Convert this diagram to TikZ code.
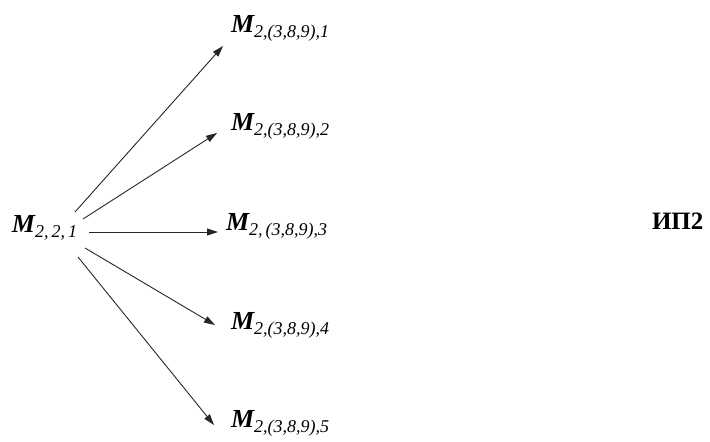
\documentclass[tikz,border=0pt]{standalone}
\usepackage{fontspec}
\setmainfont{Liberation Serif}
\usetikzlibrary{arrows.meta}
% M with an italic subscript
\newcommand{\Msub}[1]{{\fontsize{26}{26}\selectfont\bfseries\itshape M}\raisebox{-5pt}{\fontsize{18}{18}\selectfont\itshape #1}}
\begin{document}
\begin{tikzpicture}[x=1pt,y=-1pt,
  lbl/.style={anchor=base west,inner sep=0pt,outer sep=0pt},
  link/.style={line width=0.9pt,draw=black!85,-{Triangle[length=11pt,width=7pt]}}]
\useasboundingbox (0,0) rectangle (710,442);
\node[lbl] (src) at (12,232) {\Msub{2,\,2,\,1}};
\node[lbl] (t1) at (231,32) {\Msub{2,(3,8,9),1}};
\node[lbl] (t2) at (231,130) {\Msub{2,(3,8,9),2}};
\node[lbl] (t3) at (226,230) {\Msub{2,\,(3,8,9),3}};
\node[lbl] (t4) at (231,329) {\Msub{2,(3,8,9),4}};
\node[lbl] (t5) at (231,427) {\Msub{2,(3,8,9),5}};
\node[lbl] (ip) at (652,229) {\fontsize{25}{25}\selectfont\bfseries ИП2};
% connector end points
\coordinate (s1) at (75,212);
\coordinate (s2) at (83,219);
\coordinate (s3) at (89,232);
\coordinate (s4) at (85,248);
\coordinate (s5) at (78,257);
\coordinate (e1) at (223,46);
\coordinate (e2) at (217,133);
\coordinate (e3) at (218,232);
\coordinate (e4) at (215,325);
\coordinate (e5) at (214,425);
\draw[link] (s1) -- (e1);
\draw[link] (s2) -- (e2);
\draw[link] (s3) -- (e3);
\draw[link] (s4) -- (e4);
\draw[link] (s5) -- (e5);
\end{tikzpicture}
\end{document}
